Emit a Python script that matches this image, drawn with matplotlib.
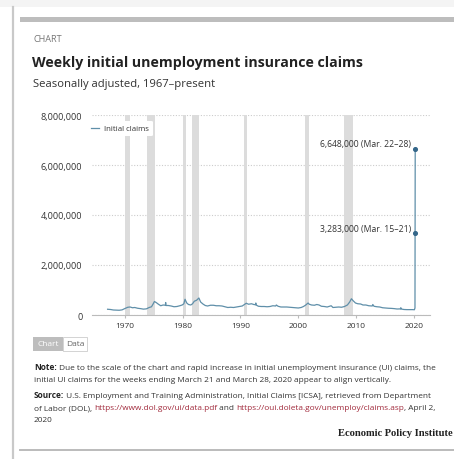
import matplotlib
matplotlib.use("Agg")
import matplotlib.pyplot as plt
from matplotlib.patches import Rectangle
from matplotlib.ticker import FuncFormatter

# weekly initial claims (thousands)
years = [1967.0, 1967.5, 1968.0, 1968.5, 1969.0, 1969.5, 1970.0, 1970.5, 1970.9, 1971.3,
         1971.7, 1972.2, 1972.7, 1973.2, 1973.7, 1974.2, 1974.6, 1974.9, 1975.1, 1975.4,
         1975.8, 1976.2, 1976.6, 1977.0, 1977.05, 1977.1, 1977.5, 1978.0, 1978.5, 1979.0,
         1979.5, 1979.9, 1980.2, 1980.4, 1980.7, 1981.0, 1981.4, 1981.7, 1982.0, 1982.4,
         1982.8, 1983.1, 1983.5, 1983.9, 1984.3, 1984.8, 1985.3, 1985.8, 1986.3, 1986.8,
         1987.3, 1987.8, 1988.3, 1988.8, 1989.3, 1989.8, 1990.3, 1990.7, 1991.0, 1991.4,
         1991.9, 1992.3, 1992.6, 1992.65, 1992.7, 1993.1, 1993.6, 1994.1, 1994.6, 1995.1,
         1995.6, 1996.1, 1996.2, 1996.5, 1997.0, 1997.5, 1998.0, 1998.5, 1999.0, 1999.5,
         2000.0, 2000.5, 2000.9, 2001.3, 2001.7, 2001.9, 2002.3, 2002.8, 2003.2, 2003.6,
         2004.0, 2004.5, 2005.0, 2005.7, 2006.0, 2006.5, 2007.0, 2007.5, 2008.0, 2008.5,
         2008.9, 2009.2, 2009.5, 2009.9, 2010.3, 2010.8, 2011.2, 2011.7, 2012.2, 2012.8,
         2012.9, 2013.1, 2013.6, 2014.1, 2014.6, 2015.1, 2015.6, 2016.1, 2016.6, 2017.1,
         2017.7, 2017.75, 2017.8, 2018.3, 2018.8, 2019.3, 2019.8, 2020.1, 2020.2, 2020.22,
         2020.24]
claims = [230, 220, 200, 195, 190, 205, 260, 310, 320, 290,
          300, 270, 255, 235, 245, 300, 330, 450, 540, 500,
          430, 370, 400, 390, 500, 380, 380, 360, 330, 340,
          370, 400, 450, 630, 480, 420, 400, 450, 550, 590,
          680, 520, 440, 380, 360, 390, 390, 370, 370, 360,
          330, 300, 310, 300, 320, 340, 360, 420, 470, 430,
          450, 420, 410, 480, 400, 350, 340, 340, 330, 340,
          370, 360, 400, 350, 320, 320, 320, 310, 300, 290,
          280, 300, 340, 400, 480, 430, 400, 390, 420, 400,
          350, 340, 320, 370, 300, 310, 320, 310, 340, 400,
          520, 650, 570, 480, 450, 440, 400, 400, 370, 360,
          420, 350, 330, 320, 290, 280, 270, 265, 255, 240,
          245, 290, 240, 220, 215, 215, 215, 210, 282, 3283,
          6648]

# NBER recessions (start, end)
rec_start = [1969.95, 1973.9, 1980.05, 1981.55, 1990.55, 2001.2, 2007.95]
rec_end = [1970.9, 1975.2, 1980.55, 1982.9, 1991.2, 2001.9, 2009.5]

callout_years = [2020.22, 2020.24]
callout_vals = [3283, 6648]
callout_text = ["3,283,000 (Mar. 15\u201321)", "6,648,000 (Mar. 22\u201328)"]

W, H = 454, 460
plt.rcParams['font.family'] = ['Open Sans', 'DejaVu Sans']
fig = plt.figure(figsize=(W / 100, H / 100), dpi=100)

# page layer in pixel coordinates
bg = fig.add_axes([0, 0, 1, 1])
bg.set_xlim(0, W)
bg.set_ylim(H, 0)
bg.axis("off")

# card frame
bg.add_patch(Rectangle((0, 0), W, 8, color="#f4f4f4", lw=0))
bg.plot([13, 13], [8, H], color="#c9c9c9", lw=1.6)
bg.add_patch(Rectangle((20, 18), W - 20, 5, color="#bdbdbd", lw=0))
bg.plot([20, W], [451, 451], color="#bbbbbb", lw=1.4)

bg.text(33, 39, "CHART", fontsize=6.6, color="#777777", va="center")
bg.text(32, 63, "Weekly initial unemployment insurance claims", fontsize=10.2,
        fontweight="bold", color="#222222", va="center")
bg.text(33, 85, "Seasonally adjusted, 1967\u2013present", fontsize=8.1, color="#333333",
        va="center")

# chart / data toggle
bg.add_patch(Rectangle((33, 338), 30, 14, color="#bdbdbd", lw=0))
bg.add_patch(Rectangle((63, 338), 24, 14, facecolor="white", edgecolor="#cccccc", lw=0.6))
bg.text(48, 345, "Chart", fontsize=6.0, color="white", ha="center", va="center")
bg.text(75, 345, "Data", fontsize=6.0, color="#666666", ha="center", va="center")


def line_of(parts, x, y, size=5.95):
    prev = None
    for txt, weight, col in parts:
        if prev is None:
            prev = bg.text(x, y, txt, fontsize=size, fontweight=weight, color=col,
                           va="center")
        else:
            prev = bg.annotate(txt, xy=(1, 0), xycoords=prev, va="bottom",
                               fontsize=size, fontweight=weight, color=col)


dark, red = "#333333", "#a0283a"
line_of([("Note:", "bold", "#222222"),
         (" Due to the scale of the chart and rapid increase in initial unemployment insurance (UI) claims, the",
          "normal", dark)], 34, 368)
line_of([("initial UI claims for the weeks ending March 21 and March 28, 2020 appear to align vertically.",
          "normal", dark)], 34, 381)
line_of([("Source:", "bold", "#222222"),
         (" U.S. Employment and Training Administration, Initial Claims [ICSA], retrieved from Department",
          "normal", dark)], 34, 396)
line_of([("of Labor (DOL), ", "normal", dark),
         ("https://www.dol.gov/ui/data.pdf", "normal", red),
         (" and ", "normal", dark),
         ("https://oui.doleta.gov/unemploy/claims.asp", "normal", red),
         (", April 2,", "normal", dark)], 34, 409)
line_of([("2020", "normal", dark)], 34, 421)

bg.text(453, 434, "Economic Policy Institute", fontsize=7.6, fontweight="bold",
        family="Liberation Serif", color="#222222", ha="right", va="center")

# main chart
ax = fig.add_axes([92 / W, 1 - 316 / H, 338 / W, 200 / H])
ax.set_xlim(1964.3, 2022.8)
ax.set_ylim(0, 8000000)
for s, e in zip(rec_start, rec_end):
    ax.axvspan(s, e, color="#dcdcdc", lw=0, zorder=1)

vals = [v * 1000 for v in claims]
ax.plot(years, vals, color="#5f8fa9", lw=0.9, label="Initial claims", zorder=3)
ax.scatter(callout_years, [v * 1000 for v in callout_vals], s=7, color="#35678a", zorder=4)
for xv, v, t in zip(callout_years, callout_vals, callout_text):
    ax.annotate(t, xy=(xv, v * 1000), xytext=(-3, 3.5), textcoords="offset points",
                ha="right", va="center", fontsize=6.2, color="#333333")

ax.set_yticks([0, 2000000, 4000000, 6000000, 8000000])
ax.yaxis.set_major_formatter(FuncFormatter(lambda v, p: f"{int(v):,}"))
ax.set_xticks([1970, 1980, 1990, 2000, 2010, 2020])
ax.grid(axis="y", color="#cccccc", ls=(0, (1, 1.5)), lw=0.8)
ax.set_axisbelow(True)
for sp in ["top", "right", "left"]:
    ax.spines[sp].set_visible(False)
ax.spines["bottom"].set_color("#bbbbbb")
ax.spines["bottom"].set_linewidth(0.8)
ax.tick_params(axis="y", length=0, pad=7, labelsize=6.6, labelcolor="#333333")
ax.tick_params(axis="x", length=2, color="#bbbbbb", pad=3, labelsize=6.0,
               labelcolor="#333333")

leg = ax.legend(loc="upper left", bbox_to_anchor=(-0.025, 0.99), fontsize=5.6,
                frameon=True, facecolor="white", edgecolor="none", framealpha=1,
                handlelength=1.0, handletextpad=0.6, borderpad=0.5)
leg.set_zorder(5)
for t in leg.get_texts():
    t.set_color("#333333")

fig.savefig("out.png", dpi=100)
